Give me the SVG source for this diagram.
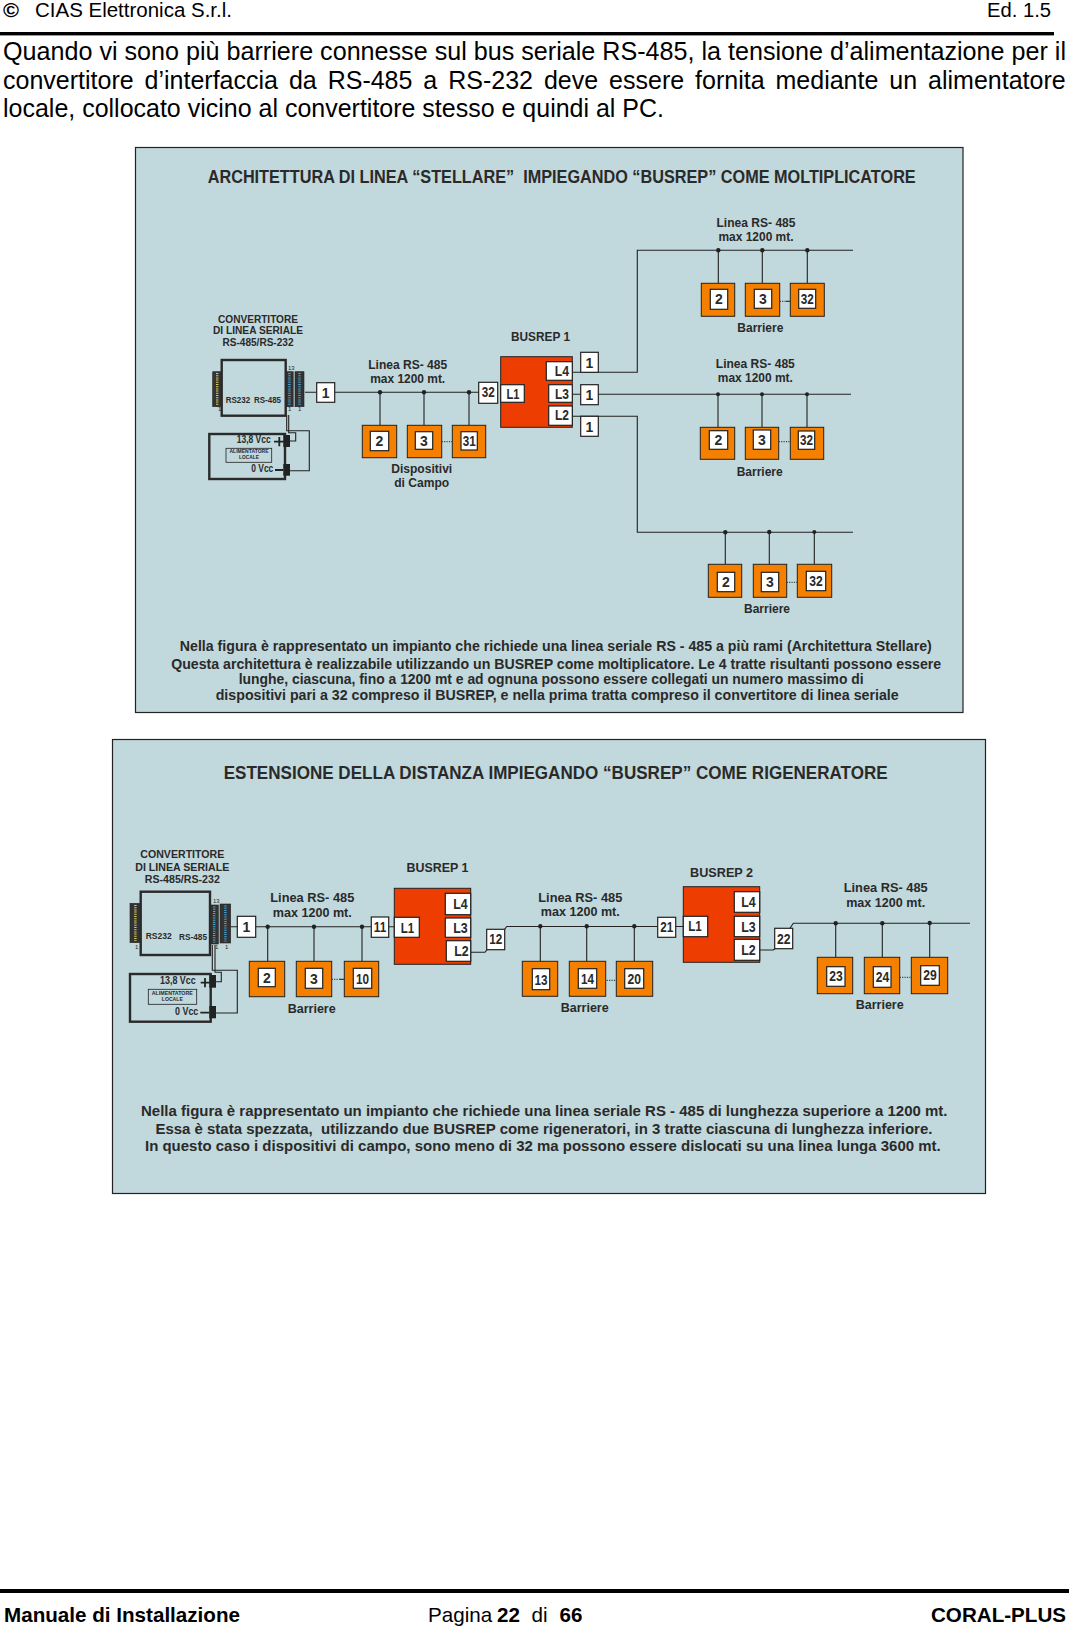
<svg xmlns="http://www.w3.org/2000/svg" width="1069" height="1628" viewBox="0 0 1069 1628">
<style>
text{font-family:"Liberation Sans",Arial,sans-serif}
.b{font-weight:bold;fill:#2a2a2a}
.m{text-anchor:middle}
.page{fill:#000}
.panel{fill:#c1d8dc;stroke:#222;stroke-width:1.2}
.or{fill:#f58000;stroke:#222;stroke-width:1}
.red{fill:#ee3d00;stroke:#222;stroke-width:1}
.wh{fill:#fff;stroke:#222;stroke-width:1.2}
.wire{fill:none;stroke:#222;stroke-width:1.1}
.sign{fill:none;stroke:#222;stroke-width:1.8}
.dots{fill:none;stroke:#222;stroke-width:1;stroke-dasharray:1.2 1.2}
.dot{fill:#222}
.n{font-size:14px;font-weight:bold;fill:#2a2a2a;text-anchor:middle}
.ln{font-size:12.7px}
.cv{font-size:11.3px}
.ti{font-size:18.5px}
.cp{font-size:15px}
.dev{fill:#c1d8dc;stroke:#2a2a2a;stroke-width:2.4}
.conn{fill:#333;stroke:#222;stroke-width:.6}
.py{fill:none;stroke:#d8d060;stroke-width:2.4;stroke-dasharray:1 1.2}
.pb{fill:none;stroke:#4aa6d8;stroke-width:2.4;stroke-dasharray:1 1.2}
.blk{fill:#222}
.sm{font-size:6px;font-weight:normal;fill:#2a2a2a}
.tiny{font-size:6px;font-weight:bold;fill:#2a2a2a;text-anchor:middle}
</style>

<g id="header">
<text x="3" y="17" class="page" font-size="21" font-weight="bold" textLength="16" lengthAdjust="spacingAndGlyphs">©</text>
<text x="35" y="16.8" class="page" font-size="20.5" textLength="197" lengthAdjust="spacingAndGlyphs">CIAS Elettronica S.r.l.</text>
<text x="987" y="16.8" class="page" font-size="20.5" textLength="64" lengthAdjust="spacingAndGlyphs">Ed. 1.5</text>
<rect x="0" y="32" width="1054" height="3.4" fill="#000"/>
</g>
<g id="intro">
<text x="3" y="60" class="page" font-size="25" textLength="1063" lengthAdjust="spacingAndGlyphs">Quando vi sono più barriere connesse sul bus seriale RS-485, la tensione d’alimentazione per il</text>
<text x="3" y="88.5" class="page" font-size="25" word-spacing="4">convertitore d’interfaccia da RS-485 a RS-232 deve essere fornita mediante un alimentatore</text>
<text x="3" y="117" class="page" font-size="25" textLength="661" lengthAdjust="spacingAndGlyphs">locale, collocato vicino al convertitore stesso e quindi al PC.</text>
</g>

<rect id="panel1" class="panel" x="135.5" y="147.5" width="827.5" height="565"/>
<rect id="panel2" class="panel" x="112.5" y="739.5" width="873" height="454"/>

<g id="panel1-text">
<text class="b ti" x="207.7" y="182.5" xml:space="preserve" textLength="708" lengthAdjust="spacingAndGlyphs">ARCHITETTURA DI LINEA “STELLARE”  IMPIEGANDO “BUSREP” COME MOLTIPLICATORE</text>
<text class="b cp" x="179.8" y="651" textLength="752" lengthAdjust="spacingAndGlyphs">Nella figura è rappresentato un impianto che richiede una linea seriale RS - 485 a più rami (Architettura Stellare)</text>
<text class="b cp" x="171.2" y="668.5" textLength="770" lengthAdjust="spacingAndGlyphs">Questa architettura è realizzabile utilizzando un BUSREP come moltiplicatore. Le 4 tratte risultanti possono essere</text>
<text class="b cp" x="238.7" y="683.5" textLength="625" lengthAdjust="spacingAndGlyphs">lunghe, ciascuna, fino a 1200 mt e ad ognuna possono essere collegati un numero massimo di</text>
<text class="b cp" x="215.7" y="700" textLength="683" lengthAdjust="spacingAndGlyphs">dispositivi pari a 32 compreso il BUSREP, e nella prima tratta compreso il convertitore di linea seriale</text>
<text class="b ln m" x="407.7" y="369" textLength="79" lengthAdjust="spacingAndGlyphs">Linea RS- 485</text>
<text class="b ln m" x="407.7" y="383" textLength="75" lengthAdjust="spacingAndGlyphs">max 1200 mt.</text>
<text class="b ln m" x="421.7" y="472.7" textLength="61" lengthAdjust="spacingAndGlyphs">Dispositivi</text>
<text class="b ln m" x="421.7" y="486.7" textLength="55" lengthAdjust="spacingAndGlyphs">di Campo</text>
<text class="b ln m" x="756" y="226.7" textLength="79" lengthAdjust="spacingAndGlyphs">Linea RS- 485</text>
<text class="b ln m" x="756" y="240.7" textLength="75" lengthAdjust="spacingAndGlyphs">max 1200 mt.</text>
<text class="b ln m" x="760.3" y="331.7" textLength="46" lengthAdjust="spacingAndGlyphs">Barriere</text>
<text class="b ln m" x="755.3" y="367.7" textLength="79" lengthAdjust="spacingAndGlyphs">Linea RS- 485</text>
<text class="b ln m" x="755.3" y="381.7" textLength="75" lengthAdjust="spacingAndGlyphs">max 1200 mt.</text>
<text class="b ln m" x="759.7" y="475.7" textLength="46" lengthAdjust="spacingAndGlyphs">Barriere</text>
<text class="b ln m" x="767" y="612.7" textLength="46" lengthAdjust="spacingAndGlyphs">Barriere</text>
</g>

<g id="panel2-text">
<text class="b ti" x="223.7" y="778.5" textLength="664" lengthAdjust="spacingAndGlyphs">ESTENSIONE DELLA DISTANZA IMPIEGANDO “BUSREP” COME RIGENERATORE</text>
<text class="b cp" x="141" y="1116" textLength="806.5" lengthAdjust="spacingAndGlyphs">Nella figura è rappresentato un impianto che richiede una linea seriale RS - 485 di lunghezza superiore a 1200 mt.</text>
<text class="b cp" x="155.4" y="1134.3" xml:space="preserve" textLength="777" lengthAdjust="spacingAndGlyphs">Essa è stata spezzata,  utilizzando due BUSREP come rigeneratori, in 3 tratte ciascuna di lunghezza inferiore.</text>
<text class="b cp" x="145" y="1150.7" textLength="795.7" lengthAdjust="spacingAndGlyphs">In questo caso i dispositivi di campo, sono meno di 32 ma possono essere dislocati su una linea lunga 3600 mt.</text>
<text class="b ln m" x="312.3" y="902.3" textLength="84" lengthAdjust="spacingAndGlyphs">Linea RS- 485</text>
<text class="b ln m" x="312.3" y="916.7" textLength="79" lengthAdjust="spacingAndGlyphs">max 1200 mt.</text>
<text class="b ln m" x="311.7" y="1012.7" textLength="48" lengthAdjust="spacingAndGlyphs">Barriere</text>
<text class="b ln m" x="580.3" y="901.7" textLength="84" lengthAdjust="spacingAndGlyphs">Linea RS- 485</text>
<text class="b ln m" x="580.3" y="916.3" textLength="79" lengthAdjust="spacingAndGlyphs">max 1200 mt.</text>
<text class="b ln m" x="584.7" y="1012.3" textLength="48" lengthAdjust="spacingAndGlyphs">Barriere</text>
<text class="b ln m" x="885.7" y="891.7" textLength="84" lengthAdjust="spacingAndGlyphs">Linea RS- 485</text>
<text class="b ln m" x="885.7" y="906.7" textLength="79" lengthAdjust="spacingAndGlyphs">max 1200 mt.</text>
<text class="b ln m" x="879.7" y="1009.3" textLength="48" lengthAdjust="spacingAndGlyphs">Barriere</text>
</g>

<g id="connectors">
<!-- panel 1 -->
<path class="wire" d="M305 392.3H479"/>
<path class="wire" d="M380 392.3V425.3M424 392.3V425.3M469 392.3V425.3"/>
<path class="dots" d="M441.7 441.7H452.3"/>
<path class="wire" d="M572.3 372.3H637.3V250.3H853"/>
<path class="wire" d="M718.3 250.3V283.3M762.3 250.3V283.3M807.3 250.3V283.3"/>
<path class="dots" d="M779.7 301.3H786"/><path class="wire" d="M786 301.3H790.3"/>
<path class="wire" d="M572.3 394.3H851"/>
<path class="wire" d="M718 394.3V427.3M762 394.3V427.3M807 394.3V427.3"/>
<path class="dots" d="M778.7 441.7H790.3"/>
<path class="wire" d="M572.3 416.3H637.3V532.3H853"/>
<path class="wire" d="M725.3 532.3V564.3M769.3 532.3V564.3M814.3 532.3V564.3"/>
<path class="dots" d="M786.7 582.3H797.3"/>
<path class="wire" d="M286.7 415V430.7H309.3V470.7H290"/>
<path class="wire" d="M288.7 415V432.7H295.7V441H290"/>
<!-- panel 2 -->
<path class="wire" d="M230.7 926.7H394.3"/>
<path class="wire" d="M267.7 926.7V961.3M314 926.7V961.3M362 926.7V961.3"/>
<path class="dots" d="M331.7 979.3H338"/><path class="wire" d="M339 979.3H344.3"/>
<path class="wire" d="M470.7 952.3H485L487 949.7M504.7 929.3L506.7 926.5H683.3"/>
<path class="wire" d="M540.3 926.3V961.3M586.7 926.3V961.3M634.3 926.3V961.3"/>
<path class="dots" d="M606.7 980.3H616.3"/>
<path class="wire" d="M759.7 950H773.3L775 948.7M790 928.3L793.3 923.3H970"/>
<path class="wire" d="M835.7 923.3V957.3M882.3 923.3V957.3M929.7 923.3V957.3"/>
<path class="dots" d="M899.7 977.3H911.3"/>
<path class="wire" d="M212.3 945V970.3H237.3V1013H216"/>
<path class="wire" d="M215 945V972.3H221.3V981.7H216"/>
<!-- junctions -->
<g class="dot">
<circle cx="380" cy="392.3" r="2.2"/><circle cx="424" cy="392.3" r="2.2"/><circle cx="469" cy="392.3" r="2.2"/>
<circle cx="718.3" cy="250.3" r="2.2"/><circle cx="762.3" cy="250.3" r="2.2"/><circle cx="807.3" cy="250.3" r="2.2"/>
<circle cx="718" cy="394.3" r="2"/><circle cx="762" cy="394.3" r="2"/><circle cx="807" cy="394.3" r="2"/>
<circle cx="725.3" cy="532.3" r="2.2"/><circle cx="769.3" cy="532" r="2.2"/><circle cx="814.3" cy="532" r="2"/>
<circle cx="267.7" cy="926.7" r="2.2"/><circle cx="314" cy="926.7" r="2.2"/><circle cx="362" cy="926.7" r="2.2"/>
<circle cx="540.3" cy="926.3" r="2.2"/><circle cx="586.7" cy="926.3" r="2.2"/><circle cx="634.3" cy="926.3" r="2.2"/>
<circle cx="835.7" cy="923.3" r="2.2"/><circle cx="882.3" cy="923.3" r="2.2"/><circle cx="929.7" cy="923" r="2.2"/>
</g>
</g>

<!-- panel 1 nodes -->
<g id="converter-1">
<text class="b cv m" x="258" y="322.7" textLength="80" lengthAdjust="spacingAndGlyphs">CONVERTITORE</text>
<text class="b cv m" x="258" y="333.8" textLength="90" lengthAdjust="spacingAndGlyphs">DI LINEA SERIALE</text>
<text class="b cv m" x="258" y="345.7" textLength="71" lengthAdjust="spacingAndGlyphs">RS-485/RS-232</text>
<rect class="conn" x="212.7" y="371.7" width="9" height="35"/><path class="py" d="M217.2 373V405.5"/>
<rect class="conn" x="285.7" y="371.7" width="7.5" height="35"/><path class="pb" d="M289.4 373V405.5"/>
<rect class="conn" x="295" y="371.7" width="9" height="35"/><path class="pb" d="M299.5 373V405.5"/>
<rect class="dev" x="221.7" y="360" width="64" height="55.7"/>
<text class="sm" x="288" y="370">13</text><text class="sm" x="218" y="411">1</text><text class="sm" x="288" y="411">1</text><text class="sm" x="298" y="411">1</text>
<text class="b" font-size="9" x="225.7" y="402.7" textLength="24.5" lengthAdjust="spacingAndGlyphs">RS232</text>
<text class="b" font-size="9" x="254" y="402.7" textLength="27" lengthAdjust="spacingAndGlyphs">RS-485</text>
</g>
<g id="psu-1">
<rect class="dev" x="209.3" y="434" width="75.7" height="45"/>
<rect class="blk" x="283.3" y="435" width="6.7" height="12"/><rect class="blk" x="283.3" y="464" width="6.7" height="11.7"/>
<path class="sign" d="M274 441.7H284M279.3 437V446.3M275 470H283.3"/>
<text class="b" font-size="10" x="236.7" y="443" textLength="34" lengthAdjust="spacingAndGlyphs">13,8 Vcc</text>
<text class="b" font-size="10" x="251.3" y="471.7" textLength="22" lengthAdjust="spacingAndGlyphs">0 Vcc</text>
<rect x="226" y="448.3" width="45.7" height="14" fill="none" stroke="#222" stroke-width=".8"/>
<text class="tiny" x="249" y="453" textLength="39" lengthAdjust="spacingAndGlyphs">ALIMENTATORE</text>
<text class="tiny" x="249" y="459" textLength="20" lengthAdjust="spacingAndGlyphs">LOCALE</text>
</g>
<g id="tag-1a"><rect class="wh" x="316.7" y="382.7" width="18" height="19.6"/><text class="n" x="325.7" y="397.5">1</text></g>
<g id="tag-32a"><rect class="wh" x="478.7" y="382.3" width="19" height="21"/><text class="n" x="488.2" y="397" textLength="13" lengthAdjust="spacingAndGlyphs">32</text></g>
<g id="dev-2a"><rect class="or" x="362.3" y="425.3" width="34.4" height="32.4"/><rect class="wh" x="370.3" y="431.3" width="18.4" height="19.4"/><text class="n" x="379.5" y="446">2</text></g>
<g id="dev-3a"><rect class="or" x="407.3" y="425.3" width="34.4" height="32.4"/><rect class="wh" x="415.3" y="431.7" width="17.4" height="17.6"/><text class="n" x="424" y="445.5">3</text></g>
<g id="dev-31a"><rect class="or" x="452.3" y="425.3" width="33.4" height="32.4"/><rect class="wh" x="461" y="431.7" width="16.3" height="18.3"/><text class="n" x="469.2" y="446" textLength="13" lengthAdjust="spacingAndGlyphs">31</text></g>
<g id="busrep-1a">
<text class="b ln m" x="540.5" y="341.3" textLength="59" lengthAdjust="spacingAndGlyphs">BUSREP 1</text>
<rect class="red" x="500.7" y="356.7" width="71.6" height="70.6"/>
<rect class="wh" x="500.7" y="384.7" width="23.6" height="17.6"/><text class="n" x="513" y="398.5" textLength="13" lengthAdjust="spacingAndGlyphs">L1</text>
<rect class="wh" x="546.3" y="361.7" width="26" height="18.6"/><text class="n" x="562" y="376" textLength="14.3" lengthAdjust="spacingAndGlyphs">L4</text>
<rect class="wh" x="548.7" y="384.7" width="23.6" height="17.6"/><text class="n" x="562" y="398.5" textLength="14" lengthAdjust="spacingAndGlyphs">L3</text>
<rect class="wh" x="548.7" y="406" width="23.6" height="19.3"/><text class="n" x="562" y="419.5" textLength="14" lengthAdjust="spacingAndGlyphs">L2</text>
</g>
<g id="tag-1b"><rect class="wh" x="580.7" y="352.3" width="17.6" height="20"/><text class="n" x="589.5" y="367.5">1</text></g>
<g id="tag-1c"><rect class="wh" x="580.7" y="384.7" width="17.6" height="20"/><text class="n" x="589.5" y="400">1</text></g>
<g id="tag-1d"><rect class="wh" x="580.7" y="416.3" width="17.6" height="20"/><text class="n" x="589.5" y="431.5">1</text></g>
<g id="dev-2b"><rect class="or" x="701.3" y="283.3" width="33.4" height="33"/><rect class="wh" x="710.3" y="289.3" width="17.4" height="20"/><text class="n" x="719" y="304">2</text></g>
<g id="dev-3b"><rect class="or" x="745.3" y="283.3" width="34.4" height="33"/><rect class="wh" x="754.3" y="289.3" width="17.4" height="19"/><text class="n" x="763" y="304">3</text></g>
<g id="dev-32b"><rect class="or" x="790.3" y="283.3" width="34" height="33"/><rect class="wh" x="798.7" y="289.3" width="17" height="19"/><text class="n" x="807.2" y="304" textLength="13" lengthAdjust="spacingAndGlyphs">32</text></g>
<g id="dev-2c"><rect class="or" x="700.3" y="427.3" width="34.4" height="32"/><rect class="wh" x="709.3" y="430.7" width="18.4" height="18.6"/><text class="n" x="718.5" y="445">2</text></g>
<g id="dev-3c"><rect class="or" x="745.3" y="427.3" width="33.4" height="32"/><rect class="wh" x="753.3" y="430" width="17.4" height="19.3"/><text class="n" x="762" y="444.5">3</text></g>
<g id="dev-32c"><rect class="or" x="790.3" y="427.3" width="33.4" height="32"/><rect class="wh" x="798.3" y="431" width="16.4" height="18.3"/><text class="n" x="806.5" y="444.5" textLength="13" lengthAdjust="spacingAndGlyphs">32</text></g>
<g id="dev-2d"><rect class="or" x="708.3" y="564.3" width="33.4" height="33"/><rect class="wh" x="717.3" y="572.3" width="17.4" height="19.4"/><text class="n" x="726" y="586.8">2</text></g>
<g id="dev-3d"><rect class="or" x="753.3" y="564.3" width="33.4" height="33"/><rect class="wh" x="761.3" y="572.3" width="17.4" height="19.4"/><text class="n" x="770" y="586.8">3</text></g>
<g id="dev-32d"><rect class="or" x="797.3" y="564.3" width="34.4" height="33"/><rect class="wh" x="806.3" y="571.3" width="19.4" height="19.4"/><text class="n" x="816" y="586" textLength="13.5" lengthAdjust="spacingAndGlyphs">32</text></g>

<!-- panel 2 nodes -->
<g id="converter-2">
<text class="b cv m" x="182.3" y="858.3" textLength="84" lengthAdjust="spacingAndGlyphs">CONVERTITORE</text>
<text class="b cv m" x="182.3" y="871" textLength="94" lengthAdjust="spacingAndGlyphs">DI LINEA SERIALE</text>
<text class="b cv m" x="182.3" y="883.3" textLength="75" lengthAdjust="spacingAndGlyphs">RS-485/RS-232</text>
<rect class="conn" x="130" y="903.3" width="10.7" height="39.4"/><path class="py" d="M135.4 905V941"/>
<rect class="conn" x="210" y="905" width="8.3" height="39"/><path class="pb" d="M214.2 906.5V942.5"/>
<rect class="conn" x="220" y="904" width="10.7" height="39"/><path class="pb" d="M225.4 905.5V941.5"/>
<rect class="dev" x="140.7" y="891.7" width="69.3" height="63.3"/>
<text class="sm" x="213" y="903">13</text><text class="sm" x="135" y="949">1</text><text class="sm" x="215" y="949">1</text><text class="sm" x="225" y="949">1</text>
<text class="b" font-size="9" x="145.7" y="939.3" textLength="26" lengthAdjust="spacingAndGlyphs">RS232</text>
<text class="b" font-size="9" x="179" y="940.3" textLength="28" lengthAdjust="spacingAndGlyphs">RS-485</text>
</g>
<g id="psu-2">
<rect class="dev" x="130" y="974" width="80.7" height="47.7"/>
<rect class="blk" x="209.3" y="975" width="6.7" height="12.7"/><rect class="blk" x="209.3" y="1006" width="6.7" height="12.3"/>
<path class="sign" d="M200.7 982.7H210M205 978V987.3M200.3 1012.7H209.3"/>
<text class="b" font-size="10.5" x="160" y="984.3" textLength="35.7" lengthAdjust="spacingAndGlyphs">13,8 Vcc</text>
<text class="b" font-size="10.5" x="175" y="1015" textLength="23.3" lengthAdjust="spacingAndGlyphs">0 Vcc</text>
<rect x="148.3" y="989.3" width="48.4" height="15" fill="none" stroke="#222" stroke-width=".8"/>
<text class="tiny" x="172.3" y="994.5" textLength="41" lengthAdjust="spacingAndGlyphs">ALIMENTATORE</text>
<text class="tiny" x="172.3" y="1000.5" textLength="21" lengthAdjust="spacingAndGlyphs">LOCALE</text>
</g>
<g id="tag-1e"><rect class="wh" x="237.3" y="916.3" width="18.4" height="21"/><text class="n" x="246.5" y="931.5">1</text></g>
<g id="tag-11"><rect class="wh" x="371.3" y="917" width="17.4" height="20.3"/><text class="n" x="380" y="932" textLength="12.5" lengthAdjust="spacingAndGlyphs">11</text></g>
<g id="dev-2e"><rect class="or" x="249.3" y="961.3" width="35.4" height="35.4"/><rect class="wh" x="258.3" y="968.3" width="17" height="18.4"/><text class="n" x="266.8" y="982.5">2</text></g>
<g id="dev-3e"><rect class="or" x="296.3" y="961.3" width="35.4" height="35.4"/><rect class="wh" x="305.3" y="968.3" width="17.4" height="20"/><text class="n" x="314" y="983.5">3</text></g>
<g id="dev-10"><rect class="or" x="344.3" y="961.3" width="34.4" height="35.4"/><rect class="wh" x="353.3" y="968.3" width="18.4" height="20"/><text class="n" x="362.5" y="983.5" textLength="13" lengthAdjust="spacingAndGlyphs">10</text></g>
<g id="busrep-1b">
<text class="b ln m" x="437.5" y="872.3" textLength="62" lengthAdjust="spacingAndGlyphs">BUSREP 1</text>
<rect class="red" x="394.3" y="888.3" width="76.4" height="76"/>
<rect class="wh" x="394.3" y="917.3" width="25" height="20"/><text class="n" x="407.5" y="932.5" textLength="13.5" lengthAdjust="spacingAndGlyphs">L1</text>
<rect class="wh" x="445.3" y="893.3" width="25.4" height="21.4"/><text class="n" x="460.5" y="908.5" textLength="14.5" lengthAdjust="spacingAndGlyphs">L4</text>
<rect class="wh" x="445.3" y="918" width="25.4" height="19.3"/><text class="n" x="460.5" y="932.5" textLength="14.5" lengthAdjust="spacingAndGlyphs">L3</text>
<rect class="wh" x="446.3" y="940.7" width="24.4" height="20.6"/><text class="n" x="461.5" y="955.5" textLength="14.5" lengthAdjust="spacingAndGlyphs">L2</text>
</g>
<g id="tag-12"><rect class="wh" x="486.7" y="929.3" width="18" height="20.4"/><text class="n" x="495.7" y="944" textLength="13" lengthAdjust="spacingAndGlyphs">12</text></g>
<g id="dev-13"><rect class="or" x="522.3" y="961.3" width="35.4" height="35"/><rect class="wh" x="532.3" y="968.7" width="17.4" height="21"/><text class="n" x="541" y="984.5" textLength="13" lengthAdjust="spacingAndGlyphs">13</text></g>
<g id="dev-14"><rect class="or" x="569.3" y="961.3" width="36.4" height="35"/><rect class="wh" x="578.3" y="968.7" width="18.4" height="19.6"/><text class="n" x="587.5" y="983.5" textLength="13" lengthAdjust="spacingAndGlyphs">14</text></g>
<g id="dev-20"><rect class="or" x="616.3" y="961.3" width="36.4" height="35"/><rect class="wh" x="624.7" y="968.7" width="19" height="19.6"/><text class="n" x="634.2" y="983.5" textLength="13.5" lengthAdjust="spacingAndGlyphs">20</text></g>
<g id="tag-21"><rect class="wh" x="657.7" y="917.3" width="18" height="20"/><text class="n" x="666.7" y="932" textLength="13" lengthAdjust="spacingAndGlyphs">21</text></g>
<g id="busrep-2">
<text class="b ln m" x="721.6" y="877.3" textLength="63" lengthAdjust="spacingAndGlyphs">BUSREP 2</text>
<rect class="red" x="683.3" y="886.7" width="76.4" height="75.6"/>
<rect class="wh" x="683.3" y="916.3" width="24.4" height="20.4"/><text class="n" x="695" y="931" textLength="13.5" lengthAdjust="spacingAndGlyphs">L1</text>
<rect class="wh" x="734.3" y="891.7" width="25.4" height="20.6"/><text class="n" x="748.5" y="907" textLength="14.5" lengthAdjust="spacingAndGlyphs">L4</text>
<rect class="wh" x="734.3" y="916.3" width="25.4" height="20.4"/><text class="n" x="748.5" y="931.5" textLength="14.5" lengthAdjust="spacingAndGlyphs">L3</text>
<rect class="wh" x="734.3" y="939.3" width="25.4" height="21"/><text class="n" x="748.5" y="954.5" textLength="14.5" lengthAdjust="spacingAndGlyphs">L2</text>
</g>
<g id="tag-22"><rect class="wh" x="774.7" y="928.3" width="18" height="20.4"/><text class="n" x="783.7" y="943.5" textLength="13.5" lengthAdjust="spacingAndGlyphs">22</text></g>
<g id="dev-23"><rect class="or" x="817.3" y="957.3" width="35.4" height="36.4"/><rect class="wh" x="826.7" y="966.7" width="18.3" height="19.6"/><text class="n" x="836" y="981" textLength="13.5" lengthAdjust="spacingAndGlyphs">23</text></g>
<g id="dev-24"><rect class="or" x="864.3" y="957.3" width="35.4" height="36.4"/><rect class="wh" x="873.3" y="966.7" width="17.7" height="20.6"/><text class="n" x="882.5" y="982" textLength="13.5" lengthAdjust="spacingAndGlyphs">24</text></g>
<g id="dev-29"><rect class="or" x="911.3" y="957.3" width="36.4" height="36.4"/><rect class="wh" x="920.7" y="965.7" width="18.6" height="19.6"/><text class="n" x="930" y="980" textLength="13.5" lengthAdjust="spacingAndGlyphs">29</text></g>

<g id="footer">
<rect x="0" y="1589" width="1069" height="4" fill="#000"/>
<text x="4" y="1622" class="page" font-size="20.6" font-weight="bold" textLength="236" lengthAdjust="spacingAndGlyphs">Manuale di Installazione</text>
<text class="page" font-size="20.6" y="1622"><tspan x="428">Pagina</tspan><tspan x="497" font-weight="bold">22</tspan><tspan x="531.5">di</tspan><tspan x="559.5" font-weight="bold">66</tspan></text>
<text x="931" y="1622" class="page" font-size="20.6" font-weight="bold" textLength="135" lengthAdjust="spacingAndGlyphs">CORAL-PLUS</text>
</g>
</svg>
